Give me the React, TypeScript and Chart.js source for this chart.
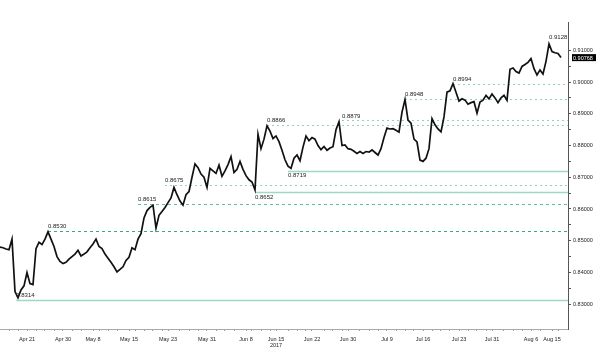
import React, { useEffect, useRef } from "react";
import { Chart, registerables } from "chart.js";

Chart.register(...registerables);

// EUR/GBP-style price series (one value per ~trading period)
const prices: number[] = [
  0.8480, 0.8478, 0.8474, 0.8472, 0.8505, 0.8340, 0.8320, 0.8345, 0.8358, 0.8400,
  0.8365, 0.8362, 0.8475, 0.8495, 0.8488, 0.8505, 0.8528, 0.8505, 0.8482, 0.8450,
  0.8435, 0.8428, 0.8432, 0.8442, 0.8450, 0.8458, 0.8470, 0.8452, 0.8458, 0.8465,
  0.8478, 0.8490, 0.8505, 0.8482, 0.8475, 0.8458, 0.8445, 0.8432, 0.8418, 0.8402,
  0.8410, 0.8418, 0.8438, 0.8448, 0.8478, 0.8472, 0.8505, 0.8522, 0.8572, 0.8595,
  0.8605, 0.8612, 0.8540, 0.8580, 0.8592, 0.8605, 0.8620, 0.8635, 0.8668, 0.8645,
  0.8625, 0.8612, 0.8645, 0.8655, 0.8700, 0.8742, 0.8730, 0.8710, 0.8700, 0.8668,
  0.8728, 0.8720, 0.8712, 0.8738, 0.8703, 0.8720, 0.8740, 0.8765, 0.8715, 0.8725,
  0.8750, 0.8725, 0.8705, 0.8692, 0.8685, 0.8660, 0.8835, 0.8790, 0.8820, 0.8862,
  0.8845, 0.8822, 0.8830, 0.8812, 0.8785, 0.8755, 0.8735, 0.8728, 0.8760, 0.8770,
  0.8752, 0.8795, 0.8830, 0.8815, 0.8825, 0.8820, 0.8800, 0.8787, 0.8797, 0.8785,
  0.8792, 0.8796, 0.8850, 0.8875, 0.8800, 0.8802, 0.8790, 0.8788, 0.8782, 0.8775,
  0.8781, 0.8775, 0.8781, 0.8779, 0.8786, 0.8778, 0.8770, 0.8790, 0.8825, 0.8855,
  0.8852, 0.8853, 0.8848, 0.8842, 0.8905, 0.8945, 0.8880, 0.8870, 0.8820, 0.8811,
  0.8754, 0.8750, 0.8760, 0.8790, 0.8885, 0.8865, 0.8852, 0.8843, 0.8890, 0.8968,
  0.8972, 0.8995, 0.8968, 0.8940, 0.8947, 0.8943, 0.8930, 0.8935, 0.8938, 0.8902,
  0.8937, 0.8943, 0.8958, 0.8947, 0.8962, 0.8950, 0.8935, 0.8950, 0.8958, 0.8942,
  0.9040, 0.9044, 0.9033, 0.9028, 0.9049, 0.9055, 0.9062, 0.9074, 0.9042, 0.9022,
  0.9038, 0.9025, 0.9065, 0.9120, 0.9096, 0.9092, 0.9090, 0.9077,
];

const yTickValues: number[] = [0.83, 0.84, 0.85, 0.86, 0.87, 0.88, 0.89, 0.90, 0.91];
const xTickIdx: number[] = [9, 21, 31, 43, 56, 69, 82, 92, 104, 116, 129, 141, 153, 164, 177, 184];
const xTickLabels: (string | string[])[] = [
  "Apr 21", "Apr 30", "May 8", "May 15", "May 23", "May 31", "Jun 8", ["Jun 15", "2017"],
  "Jun 22", "Jun 30", "Jul 9", "Jul 16", "Jul 23", "Jul 31", "Aug 6", "Aug 15",
];

// support / resistance levels
const levelValues: number[] = [0.8314, 0.8530, 0.8615, 0.8675, 0.8652, 0.8719, 0.8866, 0.8879, 0.8948, 0.8994, 0.9128];
const levelStart: number[] = [5.4, 16, 46, 55, 85, 96, 89, 114, 135, 151, 183];
const levelStyle: string[] = ["solid", "dashDark", "dash", "dot", "solid", "solid", "dot", "dot", "dot", "dot", "none"];
const levelLabelPos: string[] = ["above", "above", "above", "above", "below", "below", "above", "above", "above", "above", "above"];
const lastPrice = 0.90768;

const LABEL_FONT = '6px "Liberation Sans", Arial, sans-serif';

const levelsPlugin = {
  id: "levels",
  beforeDatasetsDraw(chart: any) {
    const { ctx, chartArea, scales } = chart;
    ctx.save();
    levelValues.forEach((v, k) => {
      const st = levelStyle[k];
      if (st === "none") return;
      const y = Math.round(scales.y.getPixelForValue(v)) + 0.5;
      const x0 = scales.x.getPixelForValue(levelStart[k]);
      ctx.beginPath();
      if (st === "solid") {
        ctx.setLineDash([]);
        ctx.strokeStyle = "#9fd8c4";
        ctx.lineWidth = 1.3;
      } else if (st === "dashDark") {
        ctx.setLineDash([3, 3]);
        ctx.strokeStyle = "#3aa683";
        ctx.lineWidth = 1;
      } else if (st === "dash") {
        ctx.setLineDash([3, 3]);
        ctx.strokeStyle = "#5cc09c";
        ctx.lineWidth = 1;
      } else {
        ctx.setLineDash([2, 3]);
        ctx.strokeStyle = "#8fd6b9";
        ctx.lineWidth = 1;
      }
      ctx.moveTo(x0, y);
      ctx.lineTo(chartArea.right, y);
      ctx.stroke();
    });
    ctx.restore();
  },
  afterDatasetsDraw(chart: any) {
    const { ctx, scales } = chart;
    ctx.save();
    ctx.font = LABEL_FONT;
    ctx.fillStyle = "#222";
    ctx.textAlign = "left";
    levelValues.forEach((v, k) => {
      const y = scales.y.getPixelForValue(v);
      const x0 = scales.x.getPixelForValue(levelStart[k]);
      if (levelLabelPos[k] === "above") {
        ctx.textBaseline = "bottom";
        ctx.fillText(v.toFixed(4), x0, y - 1.5);
      } else {
        ctx.textBaseline = "top";
        ctx.fillText(v.toFixed(4), x0, y + 1.5);
      }
    });
    ctx.restore();
  },
  afterDraw(chart: any) {
    const { ctx, chartArea, scales } = chart;
    const y = scales.y.getPixelForValue(lastPrice);
    ctx.save();
    ctx.fillStyle = "#000";
    ctx.fillRect(chartArea.right + 4, y - 3.5, 24, 7);
    ctx.fillStyle = "#fff";
    ctx.font = '5.5px "Liberation Sans", Arial, sans-serif';
    ctx.textAlign = "left";
    ctx.textBaseline = "middle";
    ctx.fillText(lastPrice.toFixed(5), chartArea.right + 5, y + 0.5);
    ctx.restore();
  },
};

export default function App() {
  const canvasRef = useRef<HTMLCanvasElement | null>(null);

  useEffect(() => {
    if (!canvasRef.current) return;
    const data = prices.map((v, i) => ({ x: i, y: v }));
    const xLabelMap = new Map<number, string | string[]>();
    xTickIdx.forEach((idx, k) => xLabelMap.set(idx, xTickLabels[k]));

    const chart = new Chart(canvasRef.current, {
      type: "line",
      data: {
        datasets: [
          {
            data,
            borderColor: "#111",
            borderWidth: 1.7,
            pointRadius: 0,
            tension: 0,
            fill: false,
          },
        ],
      },
      options: {
        animation: false,
        responsive: false,
        maintainAspectRatio: false,
        layout: { padding: { top: 22, left: 0, right: 0, bottom: 0 } },
        plugins: {
          legend: { display: false },
          tooltip: { enabled: false },
        },
        scales: {
          x: {
            type: "linear",
            min: 0,
            max: 568 / 3,
            position: "bottom",
            afterFit: (scale: any) => {
              scale.height = 25;
            },
            afterBuildTicks: (scale: any) => {
              const t: { value: number }[] = [];
              for (let i = 3; i < 189; i += 3) {
                if (!xTickIdx.some((x) => Math.abs(x - i) < 2)) t.push({ value: i });
              }
              xTickIdx.forEach((x) => t.push({ value: x }));
              t.sort((a, b) => a.value - b.value);
              scale.ticks = t;
            },
            ticks: {
              autoSkip: false,
              maxRotation: 0,
              minRotation: 0,
              padding: 5,
              color: "#222",
              font: { family: '"Liberation Sans", Arial, sans-serif', size: 5.5, lineHeight: 1.2 },
              callback: (value: any) => {
                const lab = xLabelMap.get(Number(value));
                return lab === undefined ? "" : lab;
              },
            },
            grid: {
              drawOnChartArea: false,
              drawTicks: true,
              tickLength: 2,
              color: "#999",
            },
            border: { display: true, color: "#aaa", dash: [1, 1] },
          },
          y: {
            type: "linear",
            position: "right",
            min: 0.8222,
            max: 0.9189,
            afterFit: (scale: any) => {
              scale.width = 32;
            },
            afterBuildTicks: (scale: any) => {
              const t: { value: number }[] = [];
              yTickValues.forEach((v, k) => {
                t.push({ value: v });
                if (k < yTickValues.length - 1) t.push({ value: v + 0.005 });
              });
              scale.ticks = t;
            },
            ticks: {
              padding: 2,
              color: "#222",
              font: { family: '"Liberation Sans", Arial, sans-serif', size: 5.5 },
              callback: (value: any) => {
                const v = Number(value);
                return yTickValues.some((m) => Math.abs(m - v) < 1e-6) ? v.toFixed(5) : "";
              },
            },
            grid: {
              drawOnChartArea: false,
              drawTicks: true,
              tickLength: 3,
              color: "#555",
            },
            border: { display: true, color: "#555", width: 1 },
          },
        },
      },
      plugins: [levelsPlugin],
    });

    return () => {
      chart.destroy();
    };
  }, []);

  return (
    <div style={{ position: "absolute", left: 0, top: 0, width: 600, height: 354, background: "#fff" }}>
      <canvas ref={canvasRef} width={600} height={354} style={{ display: "block" }} />
    </div>
  );
}
